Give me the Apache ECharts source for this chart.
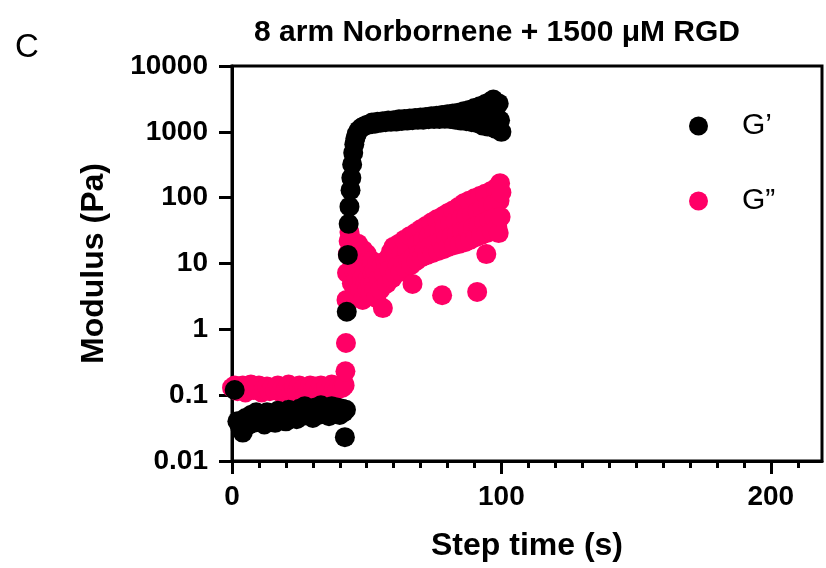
<!DOCTYPE html>
<html><head><meta charset="utf-8">
<script src="https://cdn.jsdelivr.net/npm/echarts@6/dist/echarts.min.js"></script>
<style>html,body{margin:0;padding:0;background:#fff}#c{width:826px;height:568px}</style>
</head><body><div id="c"></div>
<script>
// ---- data: G' (storage modulus, Pa) ----
const gpTime = [1,2,3,4,5,6,7,8,9,10,11,12,13,14,15,16,17,18,19,20,21,22,23,24,25,26,27,28,29,30,31,32,33,34,35,36,37,38,39,40,41,
  41.5,41.9,42.3,42.6,43,43.3,43.6,44,44.3,44.6,45,45.4,45.8,46.3,47,48,49,50,
  51,52,53,54,55,56,57,58,59,60,61,62,63,64,65,66,67,68,69,70,71,72,73,74,75,76,77,78,79,80,81,82,83,84,85,86,87,88,
  88.5,89,89.5,90,90.5,91,91.5,92,92.5,93,93.5,94,94.5,95,95.5,96,96.5,97,97.5,98,98.5,99,99.5,100];
const gpVal = [0.12,0.04,0.033,0.027,0.045,0.035,0.05,0.038,0.055,0.04,0.048,0.036,0.055,0.042,0.05,0.038,0.058,0.044,0.052,0.04,0.06,0.046,0.055,0.043,0.062,0.048,0.068,0.05,0.058,0.045,0.065,0.05,0.07,0.052,0.062,0.048,0.068,0.055,0.065,0.05,0.062,
  0.055,0.023,0.06,1.85,13.5,40,73,130,200,320,480,650,800,930,1050,1150,1220,1270,
  1300,1380,1330,1420,1370,1450,1400,1480,1420,1500,1440,1550,1460,1560,1480,1600,1500,1620,1520,1650,1530,1680,1550,1720,1560,1750,1560,1800,1580,1850,1560,1900,1520,1950,1480,2050,1450,2150,
  1800,1400,1750,2300,1800,1350,1850,2450,1800,1250,1900,2650,1750,1200,1950,2900,1700,3100,2000,1100,1600,2700,1500,1000];

// ---- data: G'' (loss modulus, Pa) ----
const gppTimeEarly = [0,1,2,3,4,5,6,7,8,9,10,11,12,13,14,15,16,17,18,19,20,21,22,23,24,25,26,27,28,29,30,31,32,33,34,35,36,37,38,39,40,41];
const gppValEarly = [0.13,0.14,0.115,0.13,0.14,0.11,0.125,0.145,0.12,0.13,
  0.14,0.11,0.125,0.135,0.115,0.13,0.12,0.14,0.11,0.13,
  0.12,0.145,0.115,0.13,0.11,0.14,0.12,0.13,0.115,0.14,
  0.12,0.135,0.11,0.14,0.12,0.13,0.115,0.145,0.125,0.12,
  0.14,0.13];
const gppTimeGel = [41.5,41.8,42.1,42.3,42.5,42.7,43,43.3,43.6,44,44.25,44.5,44.75,45,45.25,45.5,45.75,46,46.25,46.5,46.75,47,47.25,47.5,47.75,48,48.25,48.5,48.75,49,49.25,49.5,49.75,50,50.25,50.5,50.75,51,51.25,51.5,51.75,52,52.25,52.5,52.75,53,53.5,54,54.5,55,55.5,56,56.5,57,57.5,58,58.5,59,59.5];
const gppValGel = [0.15,0.14,0.23,0.62,2.8,7.2,14,22,30,25,15,5,10,20,8,3,12,15,6,8,20,18,9,4,14,12,6,2.8,16,10,7,5,13,14,4,6,11,9,5,3.5,10,11,7,5,4,8,3,10,6,4,9,2.1,7,11,5,12,8,15,6];
const gppTimeLate = [60,60.5,61,61.5,62,62.5,63,63.5,64,64.5,65,65.5,66,66.5,67,67.5,68,68.5,69,69.5,70,70.5,71,71.5,72,72.5,73,73.5,74,74.5,75,75.5,76,76.5,77,77.5,
  78,78.2,78.5,79,79.5,80,80.5,81,81.5,82,82.5,83,83.5,84,84.5,85,85.5,86,86.5,87,87.5,88,88.5,89,89.5,90,90.5,91,91.2,91.5,92,92.5,93,93.5,94,94.4,94.5,95,95.5,96,96.5,97,97.5,98,98.5,99,99.3,99.5,99.7,100];
const gppValLate = [18,7,13,9.5,20,7.5,14,10,23,8.5,16,11,26,9.5,4.9,13,29,11,20,14,33,12.5,23,16,37,13.5,26,18,42,14.5,29,20,47,15.5,32,22,
  3.3,52,16.5,36,24,58,18,40,26,64,19,44,28,72,20,48,31,82,21,52,33,90,23,56,35,98,25,3.7,62,38,106,27,68,42,115,13.9,29,74,46,125,31,80,50,140,35,29,90,166,51,120];

const xTicks = [0,100,200];
const xMinorTicks = [10,20,30,40,50,60,70,80,90,110,120,130,140,150,160,170,180,190,210];
const yTickLabels = ['0.01','0.1','1','10','100','1000','10000'];

const gppTime = gppTimeEarly.concat(gppTimeGel, gppTimeLate);
const gppVal = gppValEarly.concat(gppValGel, gppValLate);

const FONT = 'Liberation Sans, Arial, sans-serif';
const chart = echarts.init(document.getElementById('c'), null, {renderer:'canvas'});
chart.setOption({
  animation:false,
  backgroundColor:'#fff',
  title:[
    {text:'8 arm Norbornene + 1500 \u03bcM RGD', left:249, top:13,
     textStyle:{fontFamily:FONT, fontWeight:'bold', fontSize:30, color:'#000'}},
    {text:'C', left:10, top:26, textStyle:{fontFamily:FONT, fontWeight:'normal', fontSize:33, color:'#000'}}
  ],
  legend:{
    orient:'vertical', left:689, top:111, padding:0, itemGap:45,
    itemWidth:19, itemHeight:19, icon:'circle',
    data:['G\u2019','G\u201d'],
    textStyle:{fontFamily:FONT, fontSize:30, color:'#000', lineHeight:30, padding:[0,0,0,29]}
  },
  grid:{left:232, top:66, right:4, bottom:107, show:true, borderColor:'#000', borderWidth:3, backgroundColor:'transparent'},
  xAxis:[{
    type:'value', min:0, max:219, position:'bottom',
    name:'Step time (s)', nameLocation:'middle', nameGap:69,
    nameTextStyle:{fontFamily:FONT, fontWeight:'bold', fontSize:32, color:'#000'},
    axisLine:{show:true, lineStyle:{color:'#000', width:3}},
    axisTick:{show:true, customValues:xTicks, length:13, lineStyle:{color:'#000', width:3}},
    axisLabel:{customValues:xTicks, margin:22, fontFamily:FONT, fontWeight:'bold', fontSize:28, color:'#000'},
    splitLine:{show:false}
  },{
    type:'value', min:0, max:219, position:'bottom', offset:0,
    axisLine:{show:false},
    axisTick:{show:true, customValues:xMinorTicks, length:7, lineStyle:{color:'#000', width:3}},
    axisLabel:{show:false},
    splitLine:{show:false}
  }],
  yAxis:{
    type:'log', logBase:10, min:0.01, max:10000,
    name:'Modulus (Pa)', nameLocation:'middle', nameGap:122,
    nameTextStyle:{fontFamily:FONT, fontWeight:'bold', fontSize:32, color:'#000'},
    axisLine:{show:true, lineStyle:{color:'#000', width:3}},
    axisTick:{show:true, length:13, lineStyle:{color:'#000', width:3}},
    axisLabel:{margin:24, fontFamily:FONT, fontWeight:'bold', fontSize:28, color:'#000',
      formatter:(v)=>yTickLabels[Math.round(Math.log10(v))+2]},
    splitLine:{show:false}
  },
  series:[
    {name:'G\u201d', type:'scatter', xAxisIndex:0, symbol:'circle', symbolSize:20, z:2,
     itemStyle:{color:'#FF0066', opacity:1},
     data:gppTime.map((t,i)=>[t,gppVal[i]])},
    {name:'G\u2019', type:'scatter', xAxisIndex:0, symbol:'circle', symbolSize:20, z:3,
     itemStyle:{color:'#000000', opacity:1},
     data:gpTime.map((t,i)=>[t,gpVal[i]])}
  ]
});
</script></body></html>
